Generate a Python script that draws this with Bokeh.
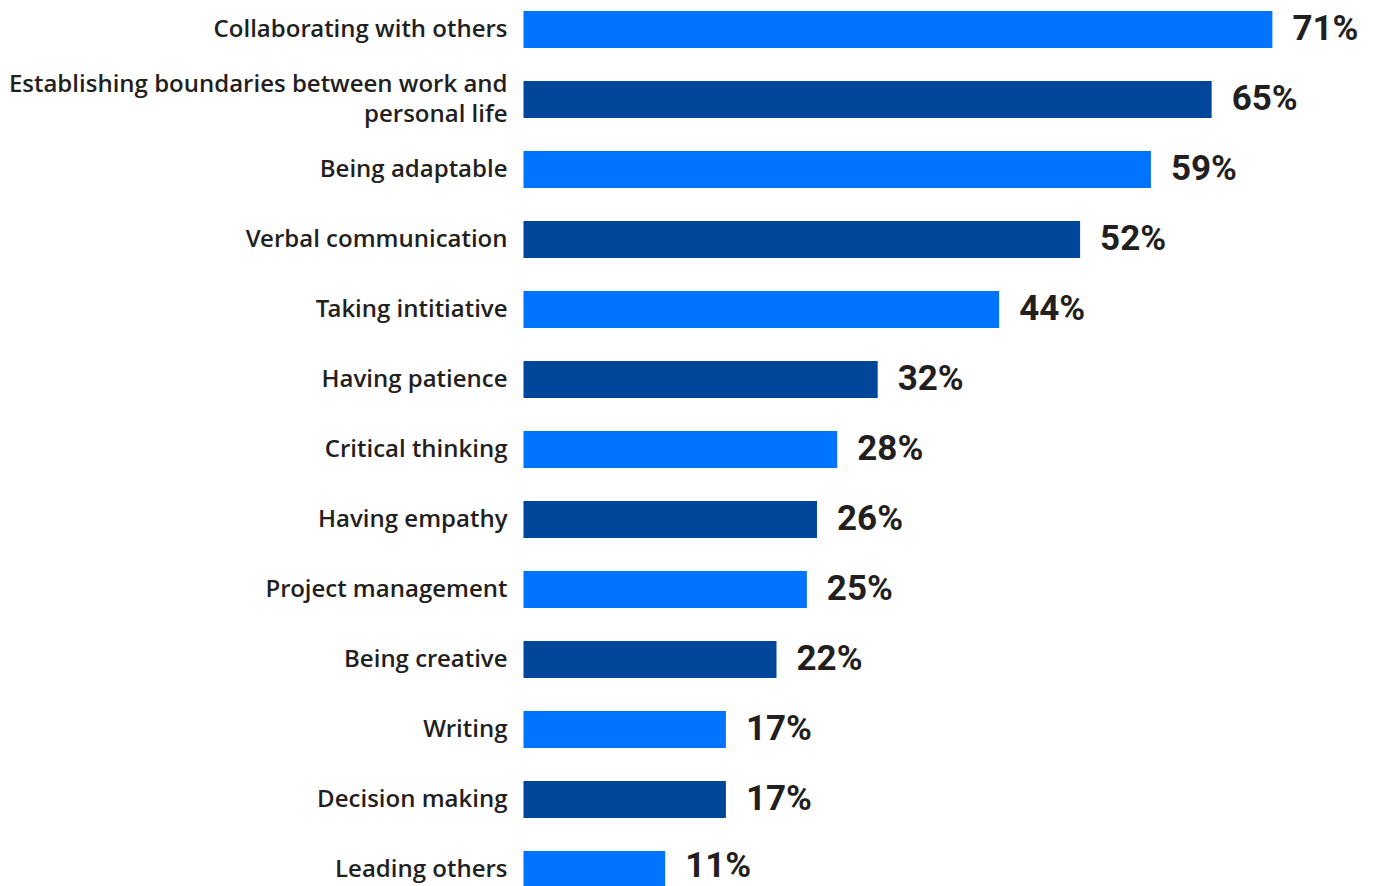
from bokeh.plotting import figure
from bokeh.models import Range1d, ColumnDataSource
from bokeh.core.properties import value
from bokeh.embed import file_html
from bokeh.resources import INLINE

categories = [
    "Collaborating with others",
    "Establishing boundaries between work and\npersonal life",
    "Being adaptable",
    "Verbal communication",
    "Taking intitiative",
    "Having patience",
    "Critical thinking",
    "Having empathy",
    "Project management",
    "Being creative",
    "Writing",
    "Decision making",
    "Leading others",
]
values = [71, 65, 59, 52, 44, 32, 28, 26, 25, 22, 17, 17, 11]
value_labels = [f"{v}%" for v in values]
colors_cycle = ["#0073ff", "#00469b"]

W, H = 1375, 886
BASE = -3.0          # value where bars start (left edge of bars)
PX_PER_UNIT = 10.12  # horizontal scale
BAR_LEFT_PX = 523
ROW_PX = 70
FIRST_ROW_PX = 29
VAL_FONT_PX = 35

x_start = BASE - BAR_LEFT_PX / PX_PER_UNIT
x_end = BASE + (W - BAR_LEFT_PX) / PX_PER_UNIT
y_top = -FIRST_ROW_PX / ROW_PX
y_bottom = y_top + H / ROW_PX

idx = list(range(len(categories)))
# keep value labels inside the picture: nudge up only if the text box would cross the bottom edge
half_box = 0.6 * VAL_FONT_PX
val_yoff = []
for i in idx:
    center = FIRST_ROW_PX + i * ROW_PX - 1
    overflow = center + half_box - H
    val_yoff.append(-1 - max(0, overflow))

src = ColumnDataSource(dict(
    y=idx,
    left=[BASE] * len(values),
    right=values,
    cat=categories,
    lab=value_labels,
    yoff=val_yoff,
    color=[colors_cycle[i % 2] for i in idx],
))

p = figure(width=W, height=H, output_backend="svg", toolbar_location=None,
           x_range=Range1d(x_start, x_end), y_range=Range1d(y_bottom, y_top),
           min_border=0, outline_line_color=None, background_fill_color="white")
p.axis.visible = False
p.grid.visible = False

p.hbar(y="y", left="left", right="right", height=37 / ROW_PX, color="color",
       line_color=None, source=src)

p.text(x="left", y="y", text="cat", source=src, text_align="right",
       text_baseline="middle", x_offset=-16, y_offset=-2,
       text_font=value("Open Sans SemiBold, Open Sans"), text_font_size="24px",
       text_color="#231f20", text_line_height=0.9)

p.text(x="right", y="y", text="lab", source=src, text_align="left",
       text_baseline="middle", x_offset=20, y_offset="yoff",
       text_font=value("Roboto"), text_font_style="bold",
       text_font_size=f"{VAL_FONT_PX}px", text_color="#231f20")

open("out.html", "w").write(file_html(p, INLINE))
